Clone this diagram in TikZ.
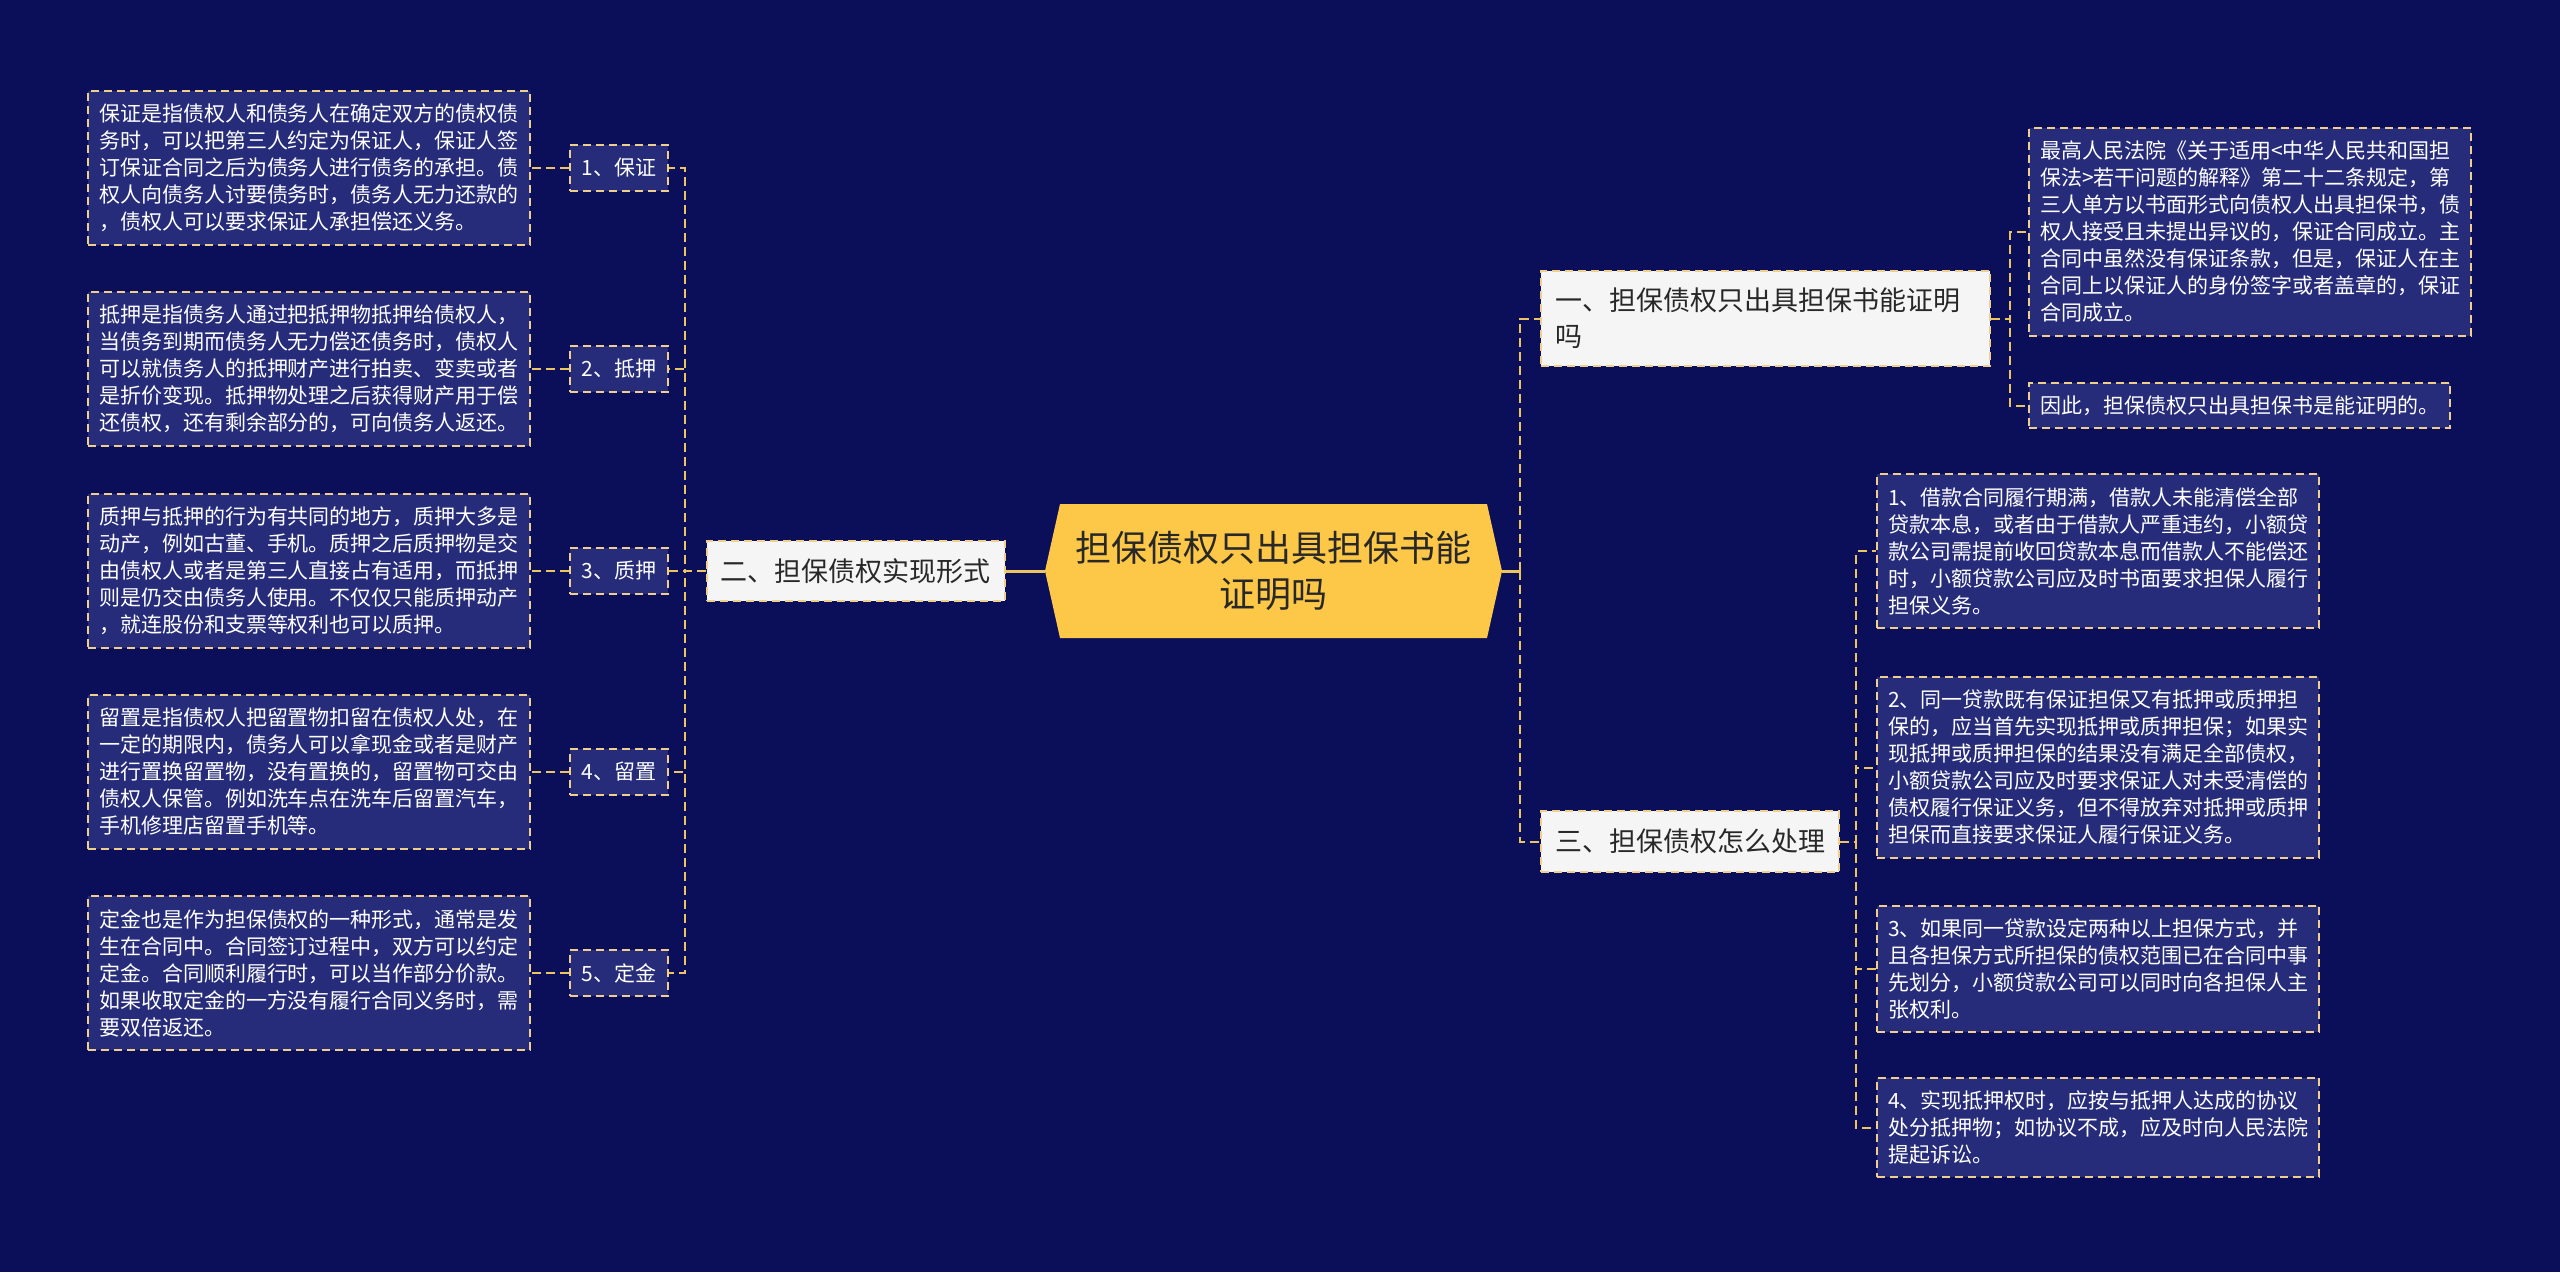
\documentclass[tikz,border=0pt]{standalone}
\usepackage{fontspec}
\setmainfont{Noto Sans CJK SC}
\usetikzlibrary{positioning}
\definecolor{bgnavy}{RGB}{11,15,89}
\definecolor{boxnavy}{RGB}{38,44,122}
\definecolor{dashtan}{RGB}{240,206,140}
\definecolor{linkgold}{RGB}{236,196,96}
\definecolor{rootgold}{RGB}{253,199,71}
\definecolor{pale}{RGB}{245,245,245}
\definecolor{ink}{RGB}{40,40,40}

\begin{document}
\begin{tikzpicture}[x=1pt, y=-1pt,
        root/.style={minimum width=457pt, minimum height=134pt, align=center, text=ink,
          font=\fontsize{36}{46}\selectfont,
          path picture={\fill[rootgold] (path picture bounding box.west)
            -- ([xshift=15pt]path picture bounding box.north west)
            -- ([xshift=-15pt]path picture bounding box.north east)
            -- (path picture bounding box.east)
            -- ([xshift=-15pt]path picture bounding box.south east)
            -- ([xshift=15pt]path picture bounding box.south west) -- cycle;}},
        topic/.style={draw=dashtan, line width=2pt, dash pattern=on 8pt off 5pt, fill=pale, text=ink,
          font=\fontsize{27}{36}\selectfont, align=left, inner xsep=14pt, inner ysep=17.5pt},
        kind/.style={draw=dashtan, line width=2pt, dash pattern=on 8pt off 5pt, fill=boxnavy, text=white,
          font=\fontsize{21}{27}\selectfont, minimum width=98pt, minimum height=46pt, inner sep=4pt},
        note/.style={draw=dashtan, line width=2pt, dash pattern=on 8pt off 5pt, fill=boxnavy, text=white,
          font=\fontsize{21}{27}\selectfont, align=left, inner xsep=11pt, inner ysep=13pt},
        link/.style={linkgold, line width=2pt, dash pattern=on 9pt off 5pt},
        trunk/.style={linkgold, line width=3pt}
      ]
        \fill[bgnavy] (0,0) rectangle (2560,1272);

        \node[root] (root) at (1273.5,571) {担保债权只出具担保书能\\证明吗};
        \node[topic] (form) at (855.5,571) {二、担保债权实现形式};
        \node[topic, anchor=west, text width=421pt] (proof) at (1540,318.5) {一、担保债权只出具担保书能证明\\吗};
        \node[topic, anchor=west] (handle) at (1540,841.5) {三、担保债权怎么处理};

        \node[kind] (s1) at (619,168) {1、保证};
        \node[kind] (s2) at (619,369) {2、抵押};
        \node[kind] (s3) at (619,571) {3、质押};
        \node[kind] (s4) at (619,772) {4、留置};
        \node[kind] (s5) at (619,973) {5、定金};

        \node[note, text width=420pt, left=38pt of s1] (d1) {保证是指债权人和债务人在确定双方的债权债\\务时，可以把第三人约定为保证人，保证人签\\订保证合同之后为债务人进行债务的承担。债\\权人向债务人讨要债务时，债务人无力还款的\\，债权人可以要求保证人承担偿还义务。};
        \node[note, text width=420pt, left=38pt of s2] (d2) {抵押是指债务人通过把抵押物抵押给债权人，\\当债务到期而债务人无力偿还债务时，债权人\\可以就债务人的抵押财产进行拍卖、变卖或者\\是折价变现。抵押物处理之后获得财产用于偿\\还债权，还有剩余部分的，可向债务人返还。};
        \node[note, text width=420pt, left=38pt of s3] (d3) {质押与抵押的行为有共同的地方，质押大多是\\动产，例如古董、手机。质押之后质押物是交\\由债权人或者是第三人直接占有适用，而抵押\\则是仍交由债务人使用。不仅仅只能质押动产\\，就连股份和支票等权利也可以质押。};
        \node[note, text width=420pt, left=38pt of s4] (d4) {留置是指债权人把留置物扣留在债权人处，在\\一定的期限内，债务人可以拿现金或者是财产\\进行置换留置物，没有置换的，留置物可交由\\债权人保管。例如洗车点在洗车后留置汽车，\\手机修理店留置手机等。};
        \node[note, text width=420pt, left=38pt of s5] (d5) {定金也是作为担保债权的一种形式，通常是发\\生在合同中。合同签订过程中，双方可以约定\\定金。合同顺利履行时，可以当作部分价款。\\如果收取定金的一方没有履行合同义务时，需\\要双倍返还。};

        \node[note, text width=420pt, anchor=west] (pa) at (2028,232) {最高人民法院《关于适用<中华人民共和国担\\保法>若干问题的解释》第二十二条规定，第\\三人单方以书面形式向债权人出具担保书，债\\权人接受且未提出异议的，保证合同成立。主\\合同中虽然没有保证条款，但是，保证人在主\\合同上以保证人的身份签字或者盖章的，保证\\合同成立。};
        \node[note, anchor=west] (pb) at (2028,405.5) {因此，担保债权只出具担保书是能证明的。};

        \node[note, text width=420pt, anchor=west] (h1) at (1876,551) {1、借款合同履行期满，借款人未能清偿全部\\贷款本息，或者由于借款人严重违约，小额贷\\款公司需提前收回贷款本息而借款人不能偿还\\时，小额贷款公司应及时书面要求担保人履行\\担保义务。};
        \node[note, text width=420pt, anchor=west] (h2) at (1876,767.5) {2、同一贷款既有保证担保又有抵押或质押担\\保的，应当首先实现抵押或质押担保；如果实\\现抵押或质押担保的结果没有满足全部债权，\\小额贷款公司应及时要求保证人对未受清偿的\\债权履行保证义务，但不得放弃对抵押或质押\\担保而直接要求保证人履行保证义务。};
        \node[note, text width=420pt, anchor=west] (h3) at (1876,969) {3、如果同一贷款设定两种以上担保方式，并\\且各担保方式所担保的债权范围已在合同中事\\先划分，小额贷款公司可以同时向各担保人主\\张权利。};
        \node[note, text width=420pt, anchor=west] (h4) at (1876,1127.5) {4、实现抵押权时，应按与抵押人达成的协议\\处分抵押物；如协议不成，应及时向人民法院\\提起诉讼。};

        \draw[trunk] (root.west) -- (form.east);
        \draw[trunk] (root.east) -- ++(18,0) coordinate (rj);
        \foreach \n in {proof,handle} { \draw[link] (rj) |- (\n.west); }
        \foreach \i in {1,...,5} {
          \draw[link] (form.west) -- ++(-21,0) |- (s\i.east);
          \draw[link] (s\i.west) -- (d\i.east);
        }
        \foreach \n in {pa,pb} { \draw[link] (proof.east) -- ++(19,0) |- (\n.west); }
        \foreach \i in {1,...,4} { \draw[link] (handle.east) -- ++(16,0) |- (h\i.west); }
      \end{tikzpicture}
\end{document}
